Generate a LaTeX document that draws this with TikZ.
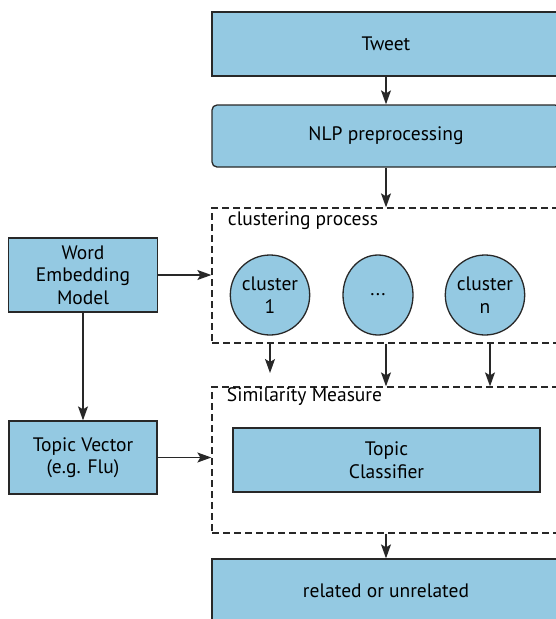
\documentclass[tikz,border=0pt]{standalone}
\usepackage{fontspec}
\setmainfont{PT Sans}
\usetikzlibrary{arrows.meta,shapes.geometric}
\definecolor{boxblue}{RGB}{148,201,226}
\definecolor{lineblk}{RGB}{40,40,40}

\begin{document}
\begin{tikzpicture}[x=1pt,y=-1pt,>={Stealth[length=14pt,width=10pt,inset=3pt]},
		line width=1.3pt,draw=lineblk,font=\fontsize{19.5}{22.5}\selectfont]
				\tikzstyle{block}=[draw=lineblk,fill=boxblue,align=center,inner sep=0pt]
			    \tikzstyle{group}=[draw=lineblk,dash pattern=on 7pt off 4pt,inner sep=0pt]
			    \tikzstyle{cluster}=[ellipse,draw=lineblk,fill=boxblue,align=center,inner sep=0pt,minimum height=80pt]
			    \useasboundingbox (0,0) rectangle (555,619);

			    % Main chain
			    \node[block,minimum width=348pt,minimum height=64pt] (tweet) at (386,44) {Tweet};
			    \node[block,rounded corners=5pt,minimum width=348pt,minimum height=62pt] (nlp) at (386,136) {NLP preprocessing};

			    % Clustering group
			    \node[group,minimum width=348pt,minimum height=135pt] (clust) at (386,275.5) {};
			    \node[anchor=west] (clustlbl) at (224,221) {clustering process};
			    \node[cluster,minimum width=70pt] (c1) at (270,295) {cluster\\1};
			    \node[cluster,minimum width=70pt] (cdots) at (378,295) {...};
			    \node[cluster,minimum width=64pt] (cn) at (485,295) {cluster\\n};

			    % Similarity group
			    \node[group,minimum width=348pt,minimum height=146pt] (sim) at (386,460) {};
			    \node[anchor=west] (simlbl) at (223,397) {Similarity Measure};
			    \node[block,minimum width=307pt,minimum height=64pt] (tc) at (386.5,460) {Topic\\Classifier};
			    \node[block,minimum width=348pt,minimum height=64pt] (out) at (386,591) {related or unrelated};

			    % Left column
			    \node[block,minimum width=149pt,minimum height=74pt] (wem) at (83,275) {Word\\Embedding\\Model};
			    \node[block,minimum width=148pt,minimum height=73pt] (tv) at (83,457.5) {Topic Vector\\(e.g. Flu)};

			    \coordinate (c1end) at (270,373);
			    \coordinate (cntop) at (490,343);

			    % Connections
			    \draw[->] (tweet) -- (nlp);
			    \draw[->] (nlp) -- (clust);
			    \draw[->] (wem.east) -- (wem.east -| clust.west);
			    \draw[->] (wem) -- (tv);
			    \draw[->] (tv.east) -- (tv.east -| sim.west);
			    \draw[->] (c1 |- clust.south) -- (c1end);
			    \draw[->] (clust.south) -- (sim.north);
			    \draw[->] (cntop) -- (cntop |- sim.north);
			    \draw[->] (sim) -- (out);

			\end{tikzpicture}
\end{document}
